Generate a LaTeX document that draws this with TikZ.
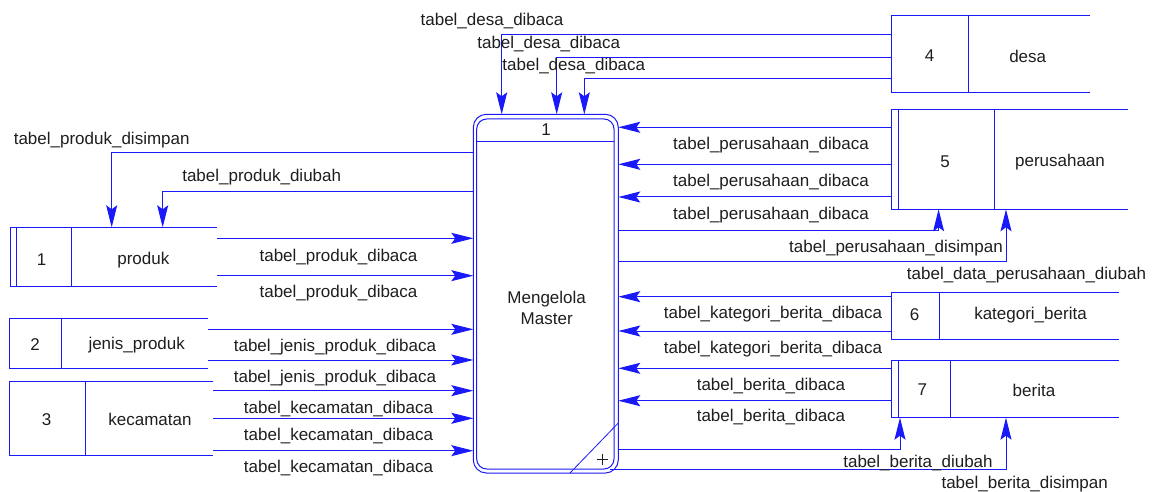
\documentclass[tikz,border=0pt]{standalone}
\usepackage{fontspec}
\setmainfont{Liberation Sans}
\usetikzlibrary{arrows.meta}
\definecolor{ln}{RGB}{25,25,250}
\definecolor{tx}{RGB}{30,30,30}
\begin{document}
\begin{tikzpicture}[x=1pt,y=-1pt,
  lnst/.style={draw=ln, line width=1pt},
  flow/.style={lnst, -{Stealth[length=22pt,width=11pt,inset=4pt]}},
  lbl/.style={text=tx, font=\fontsize{17}{21}\selectfont, inner sep=0pt},
  area/.style={draw=none, inner sep=0pt, outer sep=0pt}]
\useasboundingbox (0,0) rectangle (1163,492);

% process
\node[area, minimum width=145pt, minimum height=358.7pt] (P) at (545.8,293.65) {};
\draw[lnst, rounded corners=13pt] (P.north west) rectangle (P.south east);
\draw[lnst, rounded corners=10pt] ([shift={(3.4,4.7)}]P.north west) rectangle ([shift={(-4.3,-4)}]P.south east);
\draw[lnst] (476.7,141.7) -- (614,141.7);
\draw[lnst, line width=0.8pt] (570,473) -- (618.3,423);
\draw[tx, line width=0.8pt] (597.2,459) -- (608.2,459) (602.7,453.5) -- (602.7,464.5);
\node[lbl] (Pn) at (546,130) {1};
\node[lbl, align=center] (Pt) at (546.7,307.5) {Mengelola\\Master};
\coordinate (Pc) at (610,469.3);

% stores
\node[area, minimum width=206.7pt, minimum height=59.4pt] (D1) at (113.35,257) {};
\node[area, minimum width=199pt, minimum height=50pt] (D2) at (108.8,343.3) {};
\node[area, minimum width=204pt, minimum height=74.7pt] (D3) at (111.3,418.35) {};
\node[area, minimum width=199pt, minimum height=77.4pt] (D4) at (990.5,54) {};
\node[area, minimum width=235.9pt, minimum height=100pt] (D5) at (1009.75,159.3) {};
\node[area, minimum width=226.9pt, minimum height=46.7pt] (D6) at (1005.25,315.65) {};
\node[area, minimum width=226.9pt, minimum height=57.7pt] (D7) at (1005.25,388.85) {};

\foreach \d/\x in {D1/71, D2/61.7, D3/85.7, D4/968.7, D5/994.5, D6/939, D7/950}{
  \draw[lnst] (\d.north east) -- (\d.north west) -- (\d.south west) -- (\d.south east);
  \draw[lnst] (\d.north -| \x,0) -- (\d.south -| \x,0);
}
\draw[lnst] (D1.north -| 16,0) -- (D1.south -| 16,0);
\draw[lnst] (D5.north -| 898.3,0) -- (D5.south -| 898.3,0);
\draw[lnst] (D7.north -| 898.3,0) -- (D7.south -| 898.3,0);

\node[lbl] (n1) at (41.7,260) {1};
\node[lbl] (s1) at (143.3,260) {produk};
\node[lbl] (n2) at (35,345) {2};
\node[lbl] (s2) at (136.7,345) {jenis\_produk};
\node[lbl] (n3) at (46.7,419.3) {3};
\node[lbl] (s3) at (150,419.3) {kecamatan};
\node[lbl] (n4) at (929.5,56) {4};
\node[lbl] (s4) at (1027.7,56) {desa};
\node[lbl] (n5) at (945,161.7) {5};
\node[lbl] (s5) at (1060,161.7) {perusahaan};
\node[lbl] (n6) at (914.5,315) {6};
\node[lbl] (s6) at (1030.5,315) {kategori\_berita};
\node[lbl] (n7) at (922.4,390) {7};
\node[lbl] (s7) at (1034,390) {berita};

% flows top (desa)
\draw[flow] (D4.west |- 0,34.7) -| (P.north -| 501.7,0);
\draw[flow] (D4.west |- 0,57.3) -| (P.north -| 556.7,0);
\draw[flow] (D4.west |- 0,78.7) -| (P.north -| 584.3,0);
\node[lbl] (l1) at (492,21) {tabel\_desa\_dibaca};
\node[lbl] (l2) at (548.7,44.3) {tabel\_desa\_dibaca};
\node[lbl] (l3) at (573.8,65.7) {tabel\_desa\_dibaca};

% produk
\draw[flow] (P.west |- 0,152.7) -| (D1.north -| 111.7,0);
\draw[flow] (P.west |- 0,191.7) -| (D1.north -| 162.7,0);
\node[lbl] (l4) at (101.7,140) {tabel\_produk\_disimpan};
\node[lbl] (l5) at (261.7,176.7) {tabel\_produk\_diubah};
\draw[flow] (D1.east |- 0,238.3) -- (P.west |- 0,238.3);
\draw[flow] (D1.east |- 0,275.7) -- (P.west |- 0,275.7);
\node[lbl] (l6) at (338.5,256.7) {tabel\_produk\_dibaca};
\node[lbl] (l7) at (338.5,293.3) {tabel\_produk\_dibaca};

% jenis produk
\draw[flow] (D2.east |- 0,329.3) -- (P.west |- 0,329.3);
\draw[flow] (D2.east |- 0,360) -- (P.west |- 0,360);
\node[lbl] (l8) at (335,346.7) {tabel\_jenis\_produk\_dibaca};
\node[lbl] (l9) at (335,378.3) {tabel\_jenis\_produk\_dibaca};

% kecamatan
\draw[flow] (D3.east |- 0,390.7) -- (P.west |- 0,390.7);
\draw[flow] (D3.east |- 0,418.3) -- (P.west |- 0,418.3);
\draw[flow] (D3.east |- 0,450.7) -- (P.west |- 0,450.7);
\node[lbl] (l10) at (338.5,409) {tabel\_kecamatan\_dibaca};
\node[lbl] (l11) at (338.5,436) {tabel\_kecamatan\_dibaca};
\node[lbl] (l12) at (338.5,468.3) {tabel\_kecamatan\_dibaca};

% perusahaan
\draw[flow] (D5.west |- 0,127.3) -- (P.east |- 0,127.3);
\draw[flow] (D5.west |- 0,164.3) -- (P.east |- 0,164.3);
\draw[flow] (D5.west |- 0,197) -- (P.east |- 0,197);
\node[lbl] (l13) at (771,145) {tabel\_perusahaan\_dibaca};
\node[lbl] (l14) at (771,181.7) {tabel\_perusahaan\_dibaca};
\node[lbl] (l15) at (771,215) {tabel\_perusahaan\_dibaca};
\draw[flow] (P.east |- 0,230.7) -| (D5.south -| 938.6,0);
\draw[flow] (P.east |- 0,261.7) -| (D5.south -| 1006,0);
\node[lbl] (l16) at (896,248.3) {tabel\_perusahaan\_disimpan};
\node[lbl] (l17) at (1026.5,275.5) {tabel\_data\_perusahaan\_diubah};

% kategori berita
\draw[flow] (D6.west |- 0,296.7) -- (P.east |- 0,296.7);
\draw[flow] (D6.west |- 0,331) -- (P.east |- 0,331);
\node[lbl] (l18) at (773,314.3) {tabel\_kategori\_berita\_dibaca};
\node[lbl] (l19) at (773,349) {tabel\_kategori\_berita\_dibaca};

% berita
\draw[flow] (D7.west |- 0,368.3) -- (P.east |- 0,368.3);
\draw[flow] (D7.west |- 0,400.7) -- (P.east |- 0,400.7);
\node[lbl] (l20) at (771,386) {tabel\_berita\_dibaca};
\node[lbl] (l21) at (771,417.3) {tabel\_berita\_dibaca};
\draw[flow] (P.east |- 0,449) -| (D7.south -| 900,0);
\draw[flow] (Pc) -| (D7.south -| 1006,0);
\node[lbl] (l22) at (918,463.3) {tabel\_berita\_diubah};
\node[lbl] (l23) at (1024.7,484.5) {tabel\_berita\_disimpan};
\end{tikzpicture}
\end{document}
